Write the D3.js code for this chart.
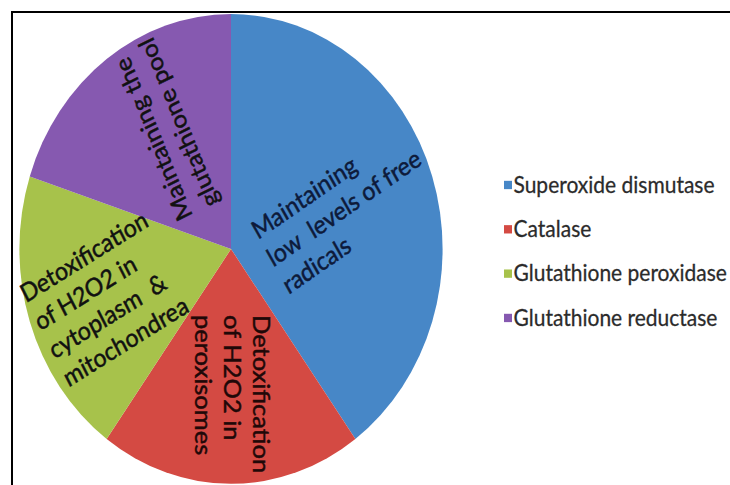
<!DOCTYPE html>
<html>
<head>
<meta charset="utf-8">
<script src="https://cdn.jsdelivr.net/npm/d3@7"></script>
<style>
  body { margin: 0; background: #fff; }
  svg { display: block; }
  text { font-family: Lato, "Open Sans", sans-serif; white-space: pre; }
</style>
</head>
<body>
<div class="chart"></div>
<script>
// data
const categories = ["Superoxide dismutase", "Catalase", "Glutathione peroxidase", "Glutathione reductase"];
const values = [40, 20, 20, 20];
const sliceLabels = [
    ["Maintaining", "low  levels of free", "radicals"],
    ["Detoxification", "of H2O2 in", "peroxisomes"],
    ["Detoxification", "of H2O2 in", "cytoplasm  &", "mitochondrea"],
    ["Maintaining the", "glutathione pool"]
];
const colors = ["#4787c7", "#d44a43", "#a7c24b", "#8659b0"];
const textColors = ["#0d1a3a", "#1f0808", "#111", "#111"];

// layout (label start point relative to pie centre, rotation)
const labelOffset = [[27, -8], [22, 59.5], [-205, 49], [-38, -30]];
const labelRotate = [-32, 90, -29.5, -114];

var w = 730, h = 485;
var sy = 1.11;          // picture is stretched vertically
var cx = 231, cy = 224.3, r = 211.6;

var svg = d3.select('.chart')
    .append('svg')
    .attr('width', w)
    .attr('height', h);

// frame (top and left edge only)
svg.append('line').attr('x1', 12).attr('x2', w).attr('y1', 12).attr('y2', 12)
    .attr('stroke', '#000').attr('stroke-width', 2);
svg.append('line').attr('x1', 12).attr('x2', 12).attr('y1', 11).attr('y2', h)
    .attr('stroke', '#000').attr('stroke-width', 2);

var g = svg.append('g').attr('transform', 'scale(1,' + sy + ')');

var pie = d3.pie().sort(null).value(d => d);
var arc = d3.arc().innerRadius(0).outerRadius(r);
var arcs = pie(values);

var pieG = g.append('g').attr('transform', 'translate(' + cx + ',' + cy + ')');

pieG.selectAll('path')
    .data(arcs)
    .enter()
    .append('path')
    .attr('d', arc)
    .attr('fill', (d, i) => colors[i]);

//slice labels
var lab = pieG.selectAll('text.lab')
    .data(arcs)
    .enter()
    .append('text')
    .attr('class', 'lab')
    .attr('transform', (d, i) => 'translate(' + labelOffset[i][0] + ',' + labelOffset[i][1] + ') rotate(' + labelRotate[i] + ')')
    .style('font-size', '23px')
    .attr('fill', (d, i) => textColors[i])
    .attr('stroke', (d, i) => textColors[i])
    .attr('stroke-width', 0.45);

lab.each(function(d, i) {
    d3.select(this).selectAll('tspan')
        .data(sliceLabels[i])
        .enter()
        .append('tspan')
        .attr('x', 0)
        .attr('dy', (t, j) => j == 0 ? 0 : 29)
        .text(t => t);
});

//legend
var legY = d3.scalePoint()
    .domain(categories)
    .range([166.7, 286.5]);

var leg = g.selectAll('g.leg')
    .data(categories)
    .enter()
    .append('g')
    .attr('class', 'leg')
    .attr('transform', d => 'translate(504,' + legY(d) + ')');

leg.append('rect')
    .attr('x', 0)
    .attr('y', -3.8)
    .attr('width', 8)
    .attr('height', 7.5)
    .attr('fill', (d, i) => colors[i]);

leg.append('text')
    .attr('x', 9.5)
    .attr('y', 6.8)
    .style('font-size', '21px')
    .attr('fill', '#2b2b2b')
    .attr('stroke', '#2b2b2b')
    .attr('stroke-width', 0.25)
    .text(d => d);
</script>
</body>
</html>
